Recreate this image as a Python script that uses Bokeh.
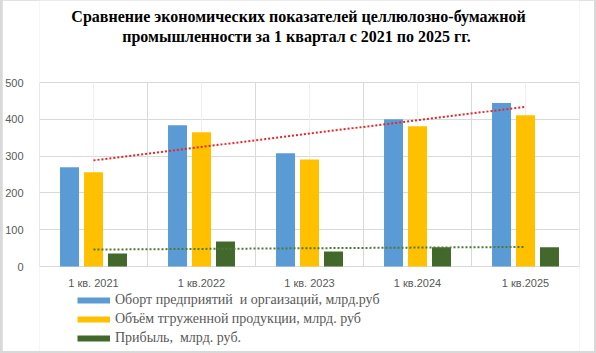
import numpy as np
from bokeh.plotting import figure
from bokeh.models import FixedTicker, Legend, LegendItem, ColumnDataSource, Label
from bokeh.layouts import column
from bokeh.embed import file_html
from bokeh.resources import INLINE

# ---- data ----
categories = ["1 кв. 2021", "1 кв.2022", "1 кв. 2023", "1 кв.2024", "1 кв.2025"]
turnover = [270, 384, 308, 400, 444]   # Оборот предприятий и организаций, млрд. руб
shipped = [256, 365, 291, 381, 411]    # Объём отгруженной продукции, млрд. руб
profit = [35, 68, 41, 52, 52]          # Прибыль, млрд. руб.
series_names = [
    "Оборт предприятий  и оргаизаций, млрд.руб",
    "Объём тгруженной продукции, млрд. руб",
    "Прибыль,  млрд. руб.",
]
y_ticks = [0, 100, 200, 300, 400, 500]
title_lines = ["Сравнение экономических показателей целлюлозно-бумажной",
               "промышленности за 1 квартал  с 2021 по 2025 гг."]

colors = ["#5B9BD5", "#FFC000", "#43682B"]

# ---- layout constants (pixels -> value space) ----
PX_PER_UNIT = 0.368          # 100 units = 36.8 px
Y_MAX = 500
Y_TOP = Y_MAX + 82 / PX_PER_UNIT      # room above the value area for the title
Y_BOTTOM = -85 / PX_PER_UNIT          # room below for category labels and legend

p = figure(width=592, height=351, output_backend="svg", toolbar_location=None,
           x_range=(0, len(categories)), y_range=(Y_BOTTOM, Y_TOP),
           min_border_left=37, min_border_right=15, min_border_top=0,
           min_border_bottom=0, margin=(0, 2, 2, 2))
p.outline_line_color = None
p.background_fill_color = "white"
p.border_fill_color = "white"
p.title = None

# title (two centred lines)
for line, dy in zip(title_lines, [66, 46]):
    p.add_layout(Label(x=len(categories) / 2, y=Y_MAX + dy / PX_PER_UNIT, text=line,
                       x_offset=-11, text_align="center", text_baseline="middle",
                       text_font="Liberation Serif", text_font_style="bold",
                       text_font_size="16px", text_color="black"))

centers = np.arange(len(categories)) + 0.5
bounds = np.arange(len(categories) + 1)

# vertical grid lines limited to the value area
p.segment(x0=centers, y0=0, x1=centers, y1=Y_MAX, line_color="#EEEEEE", line_width=1)
p.segment(x0=bounds, y0=0, x1=bounds, y1=Y_MAX, line_color="#D9D9D9", line_width=1)

offsets = [-0.222, 0.0, 0.222]
bar_w = 0.176
all_series = [turnover, shipped, profit]
for vals, off, col in zip(all_series, offsets, colors):
    src = ColumnDataSource(dict(x=centers + off, top=vals))
    p.vbar(x="x", top="top", width=bar_w, source=src, fill_color=col, line_color=None)

# linear trendlines (Excel-style) for turnover and profit
xi = np.arange(1, len(categories) + 1)
for vals, col in [(turnover, "#E8262A"), (profit, "#4E7A36")]:
    k, b = np.polyfit(xi, vals, 1)
    p.line([centers[0], centers[-1]], [k * xi[0] + b, k * xi[-1] + b],
           line_color=col, line_width=2, line_dash="2 2")

# axes
p.xaxis.fixed_location = 0
p.xaxis.ticker = FixedTicker(ticks=list(centers))
p.xaxis.major_label_overrides = {float(c): lab for c, lab in zip(centers, categories)}
p.yaxis.ticker = FixedTicker(ticks=y_ticks)
for ax in (p.xaxis[0], p.yaxis[0]):
    ax.axis_line_color = None
    ax.major_tick_line_color = None
    ax.minor_tick_line_color = None
    ax.major_label_text_color = "#595959"
    ax.major_label_text_font = "Liberation Sans"
p.xaxis.major_label_text_font_size = "11px"
p.yaxis.major_label_text_font_size = "11px"
p.xaxis.major_label_standoff = 4
p.yaxis.major_label_standoff = 10

p.xgrid.visible = False
p.ygrid.grid_line_color = "#D9D9D9"

# legend (swatches as thick lines)
items = []
for name, col in zip(series_names, colors):
    r = p.line(x=[np.nan], y=[np.nan], line_color=col, line_width=6)
    items.append(LegendItem(label=name, renderers=[r]))
legend = Legend(items=items, location=(38, 4), orientation="vertical",
                glyph_width=33, glyph_height=18, label_height=18, spacing=1,
                label_standoff=5, padding=0, margin=0,
                label_text_font="Liberation Serif", label_text_font_size="14px",
                label_text_color="#595959", border_line_color=None,
                background_fill_alpha=0)
p.add_layout(legend, "center")

layout = column(p, styles={"background-color": "#D9D9D9"})
open("out.html", "w").write(file_html(layout, INLINE))
